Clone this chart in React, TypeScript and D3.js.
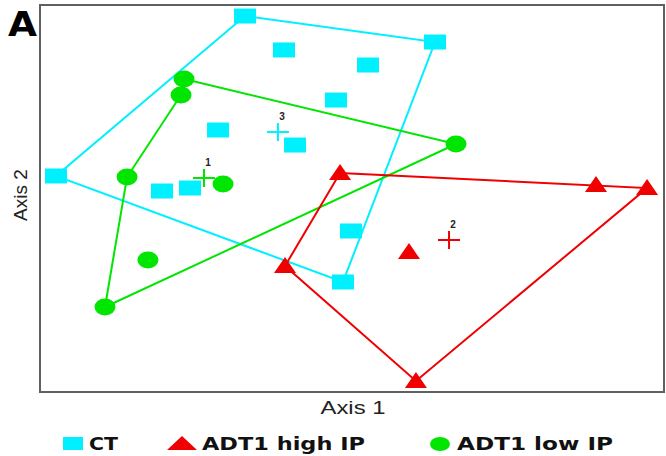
import React from "react";
import * as d3 from "d3";

// Group data (ordination scores, Axis 1 / Axis 2)
const ctX = [-1.029, -0.654, 0.798, 0.154, -0.154, -1.288, -0.548, -2.846, -1.827, -1.558, -0.01, -0.087];
const ctY = [1.876, 1.526, 1.608, 1.371, 1.01, 0.701, 0.546, 0.227, 0.072, 0.103, -0.34, -0.866];
const ctHull = [0, 2, 11, 7];

const lowX = [-1.615, -1.644, 1.0, -2.163, -1.24, -1.962, -2.375];
const lowY = [1.227, 1.062, 0.557, 0.216, 0.144, -0.639, -1.124];
const lowHull = [0, 2, 6, 3, 1];

const highX = [-0.115, 2.346, 2.837, -0.644, 0.548, 0.615];
const highY = [0.258, 0.134, 0.103, -0.701, -0.557, -1.887];
const highHull = [0, 2, 5, 3];

// Group centroids: label, x, y
const centroidLabels = ["1", "2", "3"];
const centroidX = [-1.423, 0.933, -0.712];
const centroidY = [0.206, -0.433, 0.68];

const legendLabels = ["CT", "ADT1 high IP", "ADT1 low IP"];

const W = 666;
const H = 456;
const CYAN = "#00F0FF";
const RED = "#F00000";
const GREEN = "#00E600";

export default function App() {
  const x = d3.scaleLinear().domain([-3, 3]).range([40, 664]);
  const y = d3.scaleLinear().domain([-2, 2]).range([392, 4]);
  const line = d3
    .line<[number, number]>()
    .x((d) => x(d[0]))
    .y((d) => y(d[1]))
    .curve(d3.curveLinearClosed);

  const hullPts = (xs: number[], ys: number[], idx: number[]) =>
    idx.map((i) => [xs[i], ys[i]] as [number, number]);

  const centroidColors = [GREEN, RED, CYAN];

  return (
    <svg
      width={W}
      height={H}
      style={{ position: "absolute", left: 0, top: 0, background: "#fff" }}
      fontFamily="Liberation Sans, Arial, sans-serif"
    >
      <rect x={0} y={0} width={W} height={H} fill="#fff" />
      {/* panel letter */}
      <text
        x={8}
        y={36}
        fontFamily="DejaVu Sans, sans-serif"
        fontWeight="bold"
        fontSize={33}
        textLength={29}
        lengthAdjust="spacingAndGlyphs"
        fill="#000"
      >
        A
      </text>
      {/* plot frame */}
      <rect x={40} y={5} width={624} height={387} fill="none" stroke="#606060" strokeWidth={2} />

      {/* hulls */}
      <path d={line(hullPts(ctX, ctY, ctHull)) || ""} fill="none" stroke={CYAN} strokeWidth={2} />
      <path d={line(hullPts(lowX, lowY, lowHull)) || ""} fill="none" stroke={GREEN} strokeWidth={2} />
      <path d={line(hullPts(highX, highY, highHull)) || ""} fill="none" stroke={RED} strokeWidth={2} />

      {/* CT squares */}
      {ctX.map((v, i) => (
        <rect key={"c" + i} x={x(v) - 11} y={y(ctY[i]) - 7.5} width={22} height={15} fill={CYAN} />
      ))}
      {/* low IP circles */}
      {lowX.map((v, i) => (
        <ellipse key={"g" + i} cx={x(v)} cy={y(lowY[i])} rx={10.5} ry={8.5} fill={GREEN} />
      ))}
      {/* high IP triangles */}
      {highX.map((v, i) => {
        const cx = x(v);
        const cy = y(highY[i]);
        return (
          <path
            key={"r" + i}
            d={`M${cx},${cy - 9}L${cx + 11},${cy + 7}L${cx - 11},${cy + 7}Z`}
            fill={RED}
          />
        );
      })}

      {/* centroids */}
      {centroidX.map((v, i) => {
        const cx = x(v);
        const cy = y(centroidY[i]);
        return (
          <g key={"m" + i}>
            <line x1={cx - 11} x2={cx + 11} y1={cy} y2={cy} stroke={centroidColors[i]} strokeWidth={2} />
            <line x1={cx} x2={cx} y1={cy - 9} y2={cy + 9} stroke={centroidColors[i]} strokeWidth={2} />
            <text x={cx + 4} y={cy - 12} fontSize={10} fontWeight="bold" fill="#222" textAnchor="middle">
              {centroidLabels[i]}
            </text>
          </g>
        );
      })}

      {/* axis titles */}
      <text
        x={353}
        y={414}
        fontSize={19}
        textAnchor="middle"
        textLength={65}
        lengthAdjust="spacingAndGlyphs"
        fill="#222"
      >
        Axis 1
      </text>
      <text
        transform="translate(27,195) rotate(-90)"
        fontSize={19}
        textAnchor="middle"
        fill="#222"
      >
        Axis 2
      </text>

      {/* legend */}
      <g fontFamily="DejaVu Sans, sans-serif" fontWeight="bold" fontSize={17} fill="#111">
        <rect x={63} y={437} width={20} height={13} fill={CYAN} />
        <text x={89} y={450} textLength={29} lengthAdjust="spacingAndGlyphs">
          {legendLabels[0]}
        </text>
        <path d="M182,436L197,450L167,450Z" fill={RED} />
        <text x={202} y={450} textLength={163} lengthAdjust="spacingAndGlyphs">
          {legendLabels[1]}
        </text>
        <ellipse cx={440} cy={444} rx={10} ry={7} fill={GREEN} />
        <text x={457} y={450} textLength={156} lengthAdjust="spacingAndGlyphs">
          {legendLabels[2]}
        </text>
      </g>
    </svg>
  );
}
